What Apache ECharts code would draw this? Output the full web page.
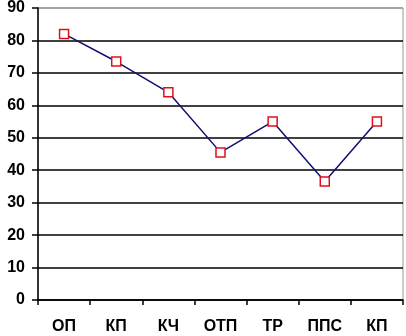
<!DOCTYPE html>
<html>
<head>
<meta charset="utf-8">
<script src="https://cdn.jsdelivr.net/npm/echarts@6/dist/echarts.min.js"></script>
<style>
  html, body { margin: 0; padding: 0; background: #fff; }
  #chart { width: 406px; height: 336px; }
</style>
</head>
<body>
<div id="chart"></div>
<script>
var categories = ['ОП', 'КП', 'КЧ', 'ОТП', 'ТР', 'ППС', 'КП'];
var values = [82, 73.5, 64, 45.5, 55, 36.5, 55];

var myChart = echarts.init(document.getElementById('chart'));
var gridColors = ['#000', '#000', '#000', '#000', '#000', '#000', '#000', '#000', '#000', '#999'];
var option = {
    animation: false,
    grid: { left: 38, right: 3, top: 6, bottom: 36, show: true, borderColor: '#999', borderWidth: 1 },
    xAxis: {
        type: 'category',
        data: categories,
        boundaryGap: true,
        axisLine: { lineStyle: { color: '#000', width: 1.5 } },
        axisTick: { show: true, length: 5, lineStyle: { color: '#000', width: 1.5 } },
        axisLabel: {
            interval: 0, margin: 19, color: '#000',
            fontFamily: 'Liberation Sans', fontWeight: 'bold', fontSize: 16
        },
        splitLine: { show: false }
    },
    yAxis: {
        type: 'value', min: 0, max: 90, interval: 10,
        axisLine: { show: true, lineStyle: { color: '#000', width: 1.5 } },
        axisTick: { show: true, length: 6, lineStyle: { color: '#000', width: 1.5 } },
        axisLabel: {
            margin: 13, color: '#000',
            fontFamily: 'Liberation Sans', fontWeight: 'bold', fontSize: 16
        },
        splitLine: { show: true, lineStyle: { color: gridColors, width: 1.5 } }
    },
    series: [
        {
            type: 'line',
            data: values,
            symbol: 'rect',
            symbolSize: 9,
            lineStyle: { color: '#101070', width: 1.5 },
            itemStyle: { color: '#fff', borderColor: '#e0101a', borderWidth: 1.5 }
        }
    ]
};
myChart.setOption(option);
</script>
</body>
</html>
